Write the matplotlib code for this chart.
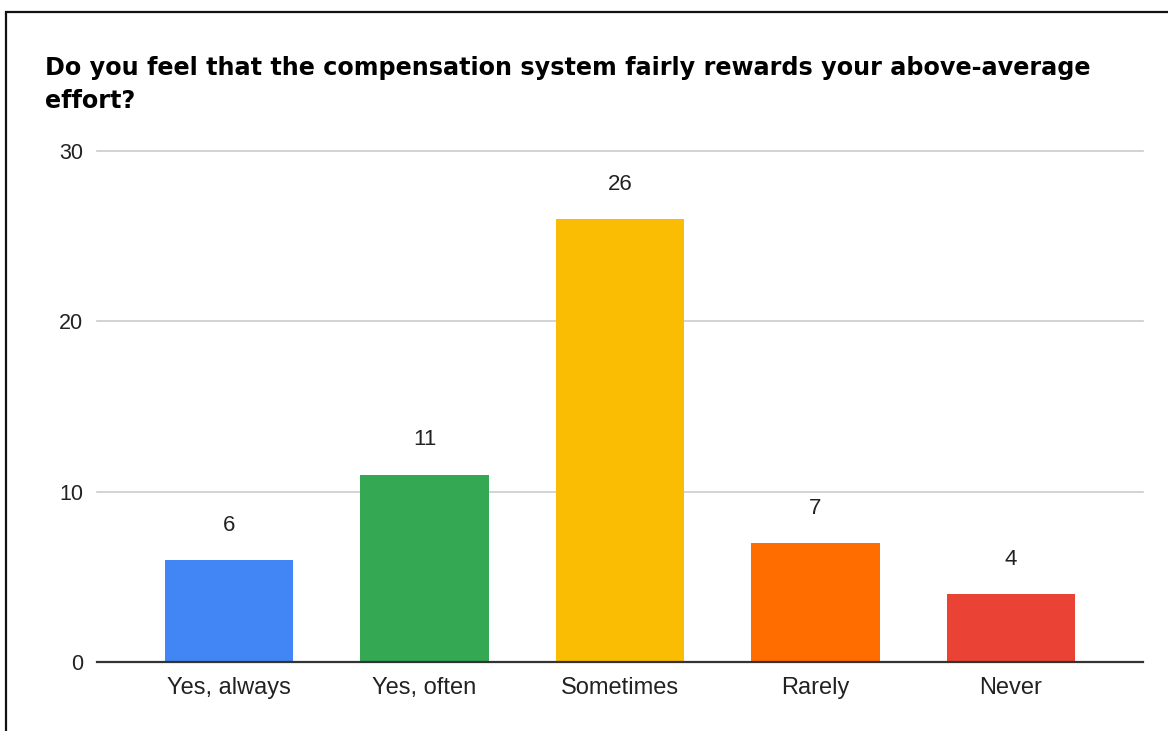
import matplotlib
matplotlib.use("Agg")
import matplotlib.pyplot as plt
from matplotlib.patches import Rectangle

categories = ["Yes, always", "Yes, often", "Sometimes", "Rarely", "Never"]
counts = [6, 11, 26, 7, 4]
colors = ["#4285F4", "#34A853", "#FBBC04", "#FF6D01", "#EA4335"]
yticks = [0, 10, 20, 30]
title_lines = ["Do you feel that the compensation system fairly rewards your above-average",
               "effort?"]

plt.rcParams["font.family"] = ["Liberation Sans", "DejaVu Sans"]

W, H = 1168, 731
fig = plt.figure(figsize=(W / 100, H / 100), dpi=100)
fig.patch.set_facecolor("white")

# outer frame (runs past the right and bottom edges)
fig.patches.append(Rectangle((6 / W, -0.05), 1.2, 1 - 12 / H + 0.05,
                             transform=fig.transFigure, fill=False,
                             edgecolor="#111111", linewidth=1.6))

ax = fig.add_axes([97 / W, 1 - 662 / H, (1143 - 97) / W, (662 - 151) / H])
x = list(range(len(categories)))
ax.bar(x, counts, width=0.655, color=colors, zorder=3)

for xi, v in zip(x, counts):
    ax.annotate(str(v), (xi, v), xytext=(0, 21), textcoords="offset points",
                ha="center", va="baseline", fontsize=16, color="#222222")

ax.set_xlim(-0.675, len(categories) - 1 + 0.675)
ax.set_ylim(0, 30)
ax.set_yticks(yticks)
ax.set_xticks(x)
ax.set_xticklabels(categories)
ax.tick_params(axis="both", length=0, colors="#222222")
ax.tick_params(axis="y", pad=10, labelsize=15.5)
ax.tick_params(axis="x", pad=11, labelsize=17)
for s in ["top", "right", "left"]:
    ax.spines[s].set_visible(False)
ax.spines["bottom"].set_color("#333333")
ax.spines["bottom"].set_linewidth(1.6)
ax.spines["bottom"].set_zorder(4)
ax.yaxis.grid(True, color="#cccccc", linewidth=1.2, zorder=0)
for gl in ax.get_ygridlines():
    gl.set_clip_on(False)

# title: size chosen so the first line spans the chart width
title_kw = dict(fontweight="bold", ha="left", va="baseline", color="#000000",
                family="DejaVu Sans")
t1 = fig.text(45 / W, 1 - 75 / H, title_lines[0], fontsize=18, **title_kw)
renderer = fig.canvas.get_renderer()
w = t1.get_window_extent(renderer).width
size = 18 * (1092 - 45) / w
t1.set_fontsize(size)
fig.text(45 / W, 1 - 108 / H, title_lines[1], fontsize=size, **title_kw)

fig.savefig("out.png", dpi=100)
